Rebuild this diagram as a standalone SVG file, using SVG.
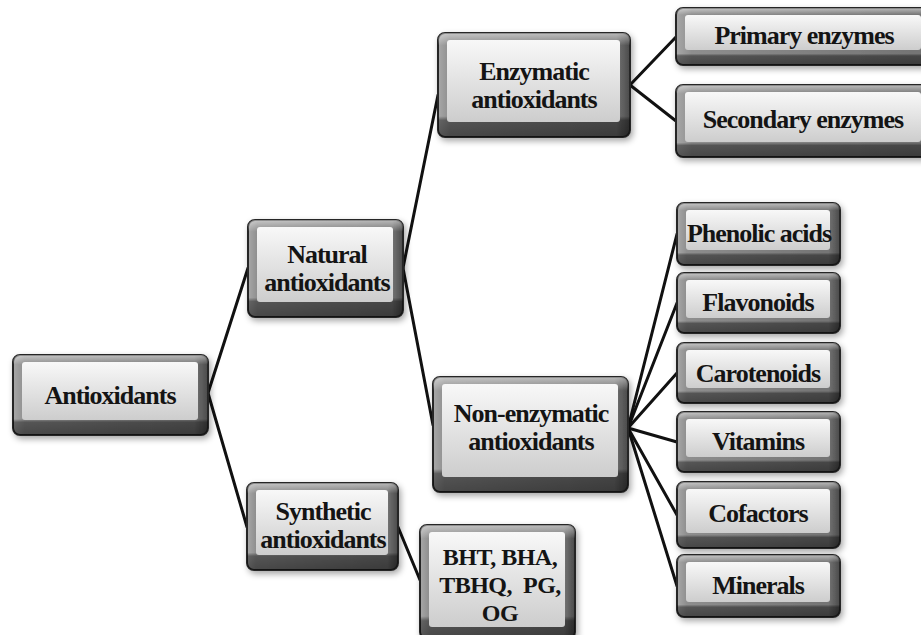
<svg xmlns="http://www.w3.org/2000/svg" width="921" height="635" viewBox="0 0 921 635">
<defs>
<linearGradient id="frameH" x1="0" y1="0" x2="1" y2="0">
<stop offset="0" stop-color="#a8a8a8"/><stop offset="0.06" stop-color="#8e8e8e"/><stop offset="0.93" stop-color="#747474"/><stop offset="1" stop-color="#4a4a4a"/>
</linearGradient>
<linearGradient id="frameV" x1="0" y1="0" x2="0" y2="1">
<stop offset="0" stop-color="#fff" stop-opacity="0.5"/><stop offset="0.12" stop-color="#fff" stop-opacity="0"/><stop offset="0.8" stop-color="#000" stop-opacity="0"/><stop offset="0.84" stop-color="#000" stop-opacity="0.4"/><stop offset="1" stop-color="#000" stop-opacity="0.5"/>
</linearGradient>
<linearGradient id="face" x1="0" y1="0" x2="0" y2="1">
<stop offset="0" stop-color="#f8f8f8"/><stop offset="1" stop-color="#cdcdcd"/>
</linearGradient>
<filter id="shadow" x="-10%" y="-10%" width="125%" height="135%">
<feDropShadow dx="2" dy="3" stdDeviation="3" flood-color="#000" flood-opacity="0.35"/>
</filter>
<style>
.frame{fill:url(#frameH);stroke:#262626;stroke-width:2;filter:url(#shadow)}
.shade{fill:url(#frameV)}
.face{fill:url(#face)}
.lbl{font-family:"Liberation Serif","Times New Roman",serif;font-weight:bold;font-size:26px;letter-spacing:-1px;fill:#141414;text-anchor:middle}
.sm{font-size:24px;letter-spacing:-0.5px}
.conn line{stroke:#111;stroke-width:3;stroke-linecap:round}
</style>
</defs>
<rect width="921" height="635" fill="#fff"/>
<g id="connectors" class="conn">
<line x1="208" y1="393" x2="248" y2="268"/>
<line x1="208" y1="393" x2="247" y2="527"/>
<line x1="403" y1="268" x2="438" y2="95"/>
<line x1="403" y1="268" x2="433" y2="425"/>
<line x1="630" y1="85" x2="676" y2="37"/>
<line x1="630" y1="85" x2="676" y2="121"/>
<line x1="628" y1="428" x2="677" y2="234"/>
<line x1="628" y1="428" x2="677" y2="303"/>
<line x1="628" y1="428" x2="677" y2="373"/>
<line x1="628" y1="428" x2="677" y2="442"/>
<line x1="628" y1="428" x2="677" y2="515"/>
<line x1="628" y1="428" x2="677" y2="586"/>
<line x1="398" y1="527" x2="420" y2="580"/>
</g>
<g id="antioxidants">
<rect class="frame" x="13" y="355" width="195" height="80" rx="7"/>
<rect class="shade" x="13" y="355" width="195" height="80" rx="7"/>
<rect class="face" x="22" y="362" width="176" height="58" rx="3"/>
<text class="lbl" x="110" y="404">Antioxidants</text>
</g>
<g id="natural">
<rect class="frame" x="248" y="220" width="155" height="97" rx="7"/>
<rect class="shade" x="248" y="220" width="155" height="97" rx="7"/>
<rect class="face" x="257" y="227" width="136" height="75" rx="3"/>
<text class="lbl" x="327" y="263">Natural</text>
<text class="lbl" x="327" y="291">antioxidants</text>
</g>
<g id="synthetic">
<rect class="frame" x="247" y="483" width="151" height="87" rx="7"/>
<rect class="shade" x="247" y="483" width="151" height="87" rx="7"/>
<rect class="face" x="256" y="490" width="132" height="65" rx="3"/>
<text class="lbl" x="323" y="520">Synthetic</text>
<text class="lbl" x="323" y="548">antioxidants</text>
</g>
<g id="enzymatic">
<rect class="frame" x="438" y="33" width="192" height="104" rx="7"/>
<rect class="shade" x="438" y="33" width="192" height="104" rx="7"/>
<rect class="face" x="447" y="40" width="173" height="82" rx="3"/>
<text class="lbl" x="534" y="80">Enzymatic</text>
<text class="lbl" x="534" y="108">antioxidants</text>
</g>
<g id="nonenzymatic">
<rect class="frame" x="433" y="377" width="195" height="115" rx="7"/>
<rect class="shade" x="433" y="377" width="195" height="115" rx="7"/>
<rect class="face" x="442" y="384" width="176" height="93" rx="3"/>
<text class="lbl" x="531" y="422">Non-enzymatic</text>
<text class="lbl" x="531" y="450">antioxidants</text>
</g>
<g id="bht">
<rect class="frame" x="420" y="525" width="155" height="114" rx="7"/>
<rect class="shade" x="420" y="525" width="155" height="114" rx="7"/>
<rect class="face" x="429" y="532" width="136" height="95" rx="3"/>
<text class="lbl sm" x="500" y="565">BHT, BHA,</text>
<text class="lbl sm" x="500" y="593">TBHQ,&#160; PG,</text>
<text class="lbl sm" x="500" y="621">OG</text>
</g>
<g id="primary">
<rect class="frame" x="676" y="8" width="262" height="57" rx="7"/>
<rect class="shade" x="676" y="8" width="262" height="57" rx="7"/>
<rect class="face" x="685" y="15" width="236" height="35" rx="3"/>
<text class="lbl" x="804" y="44">Primary enzymes</text>
</g>
<g id="secondary">
<rect class="frame" x="676" y="85" width="262" height="72" rx="7"/>
<rect class="shade" x="676" y="85" width="262" height="72" rx="7"/>
<rect class="face" x="685" y="92" width="236" height="50" rx="3"/>
<text class="lbl" x="803" y="128">Secondary enzymes</text>
</g>
<g id="phenolic">
<rect class="frame" x="677" y="203" width="163" height="62" rx="7"/>
<rect class="shade" x="677" y="203" width="163" height="62" rx="7"/>
<rect class="face" x="686" y="210" width="144" height="40" rx="3"/>
<text class="lbl" x="759" y="242">Phenolic acids</text>
</g>
<g id="flavonoids">
<rect class="frame" x="677" y="273" width="163" height="60" rx="7"/>
<rect class="shade" x="677" y="273" width="163" height="60" rx="7"/>
<rect class="face" x="686" y="280" width="144" height="38" rx="3"/>
<text class="lbl" x="758" y="311">Flavonoids</text>
</g>
<g id="carotenoids">
<rect class="frame" x="677" y="343" width="163" height="60" rx="7"/>
<rect class="shade" x="677" y="343" width="163" height="60" rx="7"/>
<rect class="face" x="686" y="350" width="144" height="38" rx="3"/>
<text class="lbl" x="758" y="382">Carotenoids</text>
</g>
<g id="vitamins">
<rect class="frame" x="677" y="412" width="163" height="60" rx="7"/>
<rect class="shade" x="677" y="412" width="163" height="60" rx="7"/>
<rect class="face" x="686" y="419" width="144" height="38" rx="3"/>
<text class="lbl" x="758" y="450">Vitamins</text>
</g>
<g id="cofactors">
<rect class="frame" x="677" y="482" width="163" height="66" rx="7"/>
<rect class="shade" x="677" y="482" width="163" height="66" rx="7"/>
<rect class="face" x="686" y="489" width="144" height="44" rx="3"/>
<text class="lbl" x="758" y="522">Cofactors</text>
</g>
<g id="minerals">
<rect class="frame" x="677" y="555" width="163" height="62" rx="7"/>
<rect class="shade" x="677" y="555" width="163" height="62" rx="7"/>
<rect class="face" x="686" y="562" width="144" height="40" rx="3"/>
<text class="lbl" x="758" y="594">Minerals</text>
</g>
</svg>
